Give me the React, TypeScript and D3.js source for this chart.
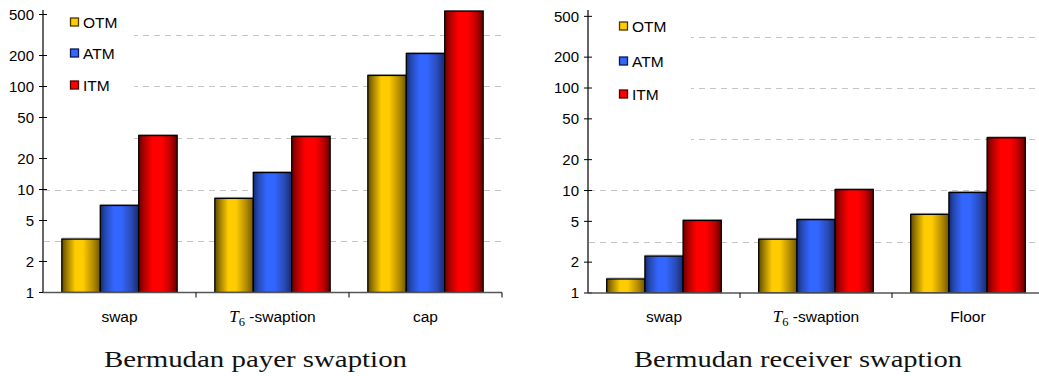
import React from "react";
import * as d3 from "d3";

// Series and categories
const seriesNames = ["OTM", "ATM", "ITM"];
const yTickValues = [1, 2, 5, 10, 20, 50, 100, 200, 500];
const gridValues = [Math.sqrt(10), 10, Math.sqrt(1000), 100, Math.sqrt(100000)];

const payerCategories = ["swap", "T6-swaption", "cap"];
const payerOTM = [3.3, 8.2, 128];
const payerATM = [7.0, 14.6, 209];
const payerITM = [33.4, 32.7, 540];

const receiverCategories = ["swap", "T6-swaption", "Floor"];
const receiverOTM = [1.37, 3.35, 5.85];
const receiverATM = [2.29, 5.2, 9.56];
const receiverITM = [5.1, 10.2, 32.7];

const SANS = "'Liberation Sans', Arimo, Arial, sans-serif";
const SERIF = "'Liberation Serif', 'DejaVu Serif', serif";

const gradStops: Record<string, [number, string][]> = {
  OTM: [
    [0, "#5e4a00"],
    [0.12, "#9a7a00"],
    [0.35, "#ffcc00"],
    [0.55, "#ffcc00"],
    [0.8, "#b89000"],
    [1, "#6e5800"],
  ],
  ATM: [
    [0, "#142a6e"],
    [0.12, "#2448b0"],
    [0.35, "#3366ff"],
    [0.55, "#3366ff"],
    [0.8, "#2a4cb8"],
    [1, "#162a70"],
  ],
  ITM: [
    [0, "#6a0000"],
    [0.12, "#a80000"],
    [0.35, "#ff0000"],
    [0.6, "#ff0000"],
    [0.82, "#c00000"],
    [1, "#600000"],
  ],
};

type PanelProps = {
  id: string;
  categories: string[];
  values: number[][];
  axisX: number;
  bottom: number;
  decade: number;
  catWidth: number;
  rightEdge: number;
  legendX: number;
  legendYs: number[];
  legendRight: number;
  title: string;
  titleX: number;
  titleWidth: number;
};

function CategoryLabel({ x, y, label }: { x: number; y: number; label: string }) {
  if (label.startsWith("T6")) {
    return (
      <text x={x} y={y} textAnchor="middle" fontSize={15.5} fontFamily={SANS} fill="#000">
        <tspan fontFamily={SERIF} fontStyle="italic" fontSize={17}>T</tspan>
        <tspan fontFamily={SERIF} fontSize={12.5} dy={4}>6</tspan>
        <tspan dy={-4}>{" -swaption"}</tspan>
      </text>
    );
  }
  return (
    <text x={x} y={y} textAnchor="middle" fontSize={15.5} fontFamily={SANS} fill="#000">
      {label}
    </text>
  );
}

function Panel(p: PanelProps) {
  const top = 10;
  const y = d3
    .scaleLog()
    .domain([1, 1000])
    .range([p.bottom, p.bottom - 3 * p.decade]);
  const x0 = d3
    .scaleBand<string>()
    .domain(p.categories)
    .range([p.axisX, p.axisX + p.catWidth * p.categories.length])
    .paddingInner(0)
    .paddingOuter(0);
  const x1 = d3
    .scaleBand<string>()
    .domain(seriesNames)
    .range([0, x0.bandwidth()])
    .paddingInner(0)
    .paddingOuter(0.49);

  const boundaries = p.categories.map((c) => (x0(c) as number) + x0.bandwidth());

  return (
    <g>
      <defs>
        {seriesNames.map((s) => (
          <linearGradient key={s} id={`${p.id}-${s}`} x1="0" x2="1" y1="0" y2="0">
            {gradStops[s].map(([o, c], i) => (
              <stop key={i} offset={o} stopColor={c} />
            ))}
          </linearGradient>
        ))}
        <clipPath id={`${p.id}-clip`}>
          <rect x={p.axisX} y={top} width={p.rightEdge - p.axisX} height={p.bottom - top} />
        </clipPath>
      </defs>

      {/* dashed gridlines */}
      {gridValues.map((v, i) => (
        <line
          key={i}
          x1={p.axisX + 1}
          x2={p.rightEdge}
          y1={Math.round(y(v)) + 0.5}
          y2={Math.round(y(v)) + 0.5}
          stroke="#c4c4c4"
          strokeWidth={1}
          strokeDasharray="6 5"
        />
      ))}

      {/* legend box masking grid */}
      <rect x={p.axisX + 1} y={top} width={p.legendRight - p.axisX - 1} height={150 - top} fill="#fff" />

      {/* bars */}
      <g clipPath={`url(#${p.id}-clip)`}>
        {p.categories.map((c, ci) =>
          seriesNames.map((s, si) => {
            const v = p.values[si][ci];
            const bx = (x0(c) as number) + (x1(s) as number);
            const by = y(v);
            const bw = x1.bandwidth();
            return (
              <g key={`${c}-${s}`}>
                <line x1={bx} x2={bx + bw + 1} y1={by - 1} y2={by - 1} stroke="#b0b0b0" strokeWidth={1} />
                <rect
                  x={bx}
                  y={by}
                  width={bw}
                  height={p.bottom - by}
                  fill={`url(#${p.id}-${s})`}
                  stroke="#000"
                  strokeWidth={1.3}
                />
              </g>
            );
          })
        )}
      </g>

      {/* y axis */}
      <line x1={p.axisX} x2={p.axisX} y1={top} y2={p.bottom} stroke="#000" strokeWidth={1.2} />
      {yTickValues.map((t) => (
        <g key={t} transform={`translate(0,${y(t)})`}>
          <line x1={p.axisX - 4} x2={p.axisX + 4} stroke="#000" strokeWidth={1} />
          <text x={p.axisX - 9} dy="0.35em" textAnchor="end" fontSize={15} fontFamily={SANS} fill="#000">
            {t}
          </text>
        </g>
      ))}

      {/* x axis */}
      <line x1={p.axisX} x2={p.rightEdge} y1={p.bottom} y2={p.bottom} stroke="#555" strokeWidth={1.3} />
      {boundaries.map((bx, i) => (
        <line key={i} x1={bx} x2={bx} y1={p.bottom} y2={p.bottom + 5} stroke="#000" strokeWidth={1} />
      ))}
      {p.categories.map((c) => (
        <CategoryLabel key={c} x={(x0(c) as number) + x0.bandwidth() / 2} y={p.bottom + 29} label={c} />
      ))}

      {/* legend */}
      {seriesNames.map((s, i) => (
        <g key={s}>
          <rect
            x={p.legendX + 0.5}
            y={p.legendYs[i] - 4}
            width={8}
            height={8}
            fill={gradStops[s][2][1]}
            stroke={s === "OTM" ? "#4a3a00" : s === "ATM" ? "#0a1a50" : "#500000"}
            strokeWidth={1.3}
          />
          <text x={p.legendX + 13} y={p.legendYs[i]} dy="0.36em" fontSize={15.5} fontFamily={SANS} fill="#000">
            {s}
          </text>
        </g>
      ))}

      {/* panel title */}
      <text
        x={p.titleX}
        y={367}
        fontSize={24}
        fontFamily={SERIF}
        textLength={p.titleWidth}
        lengthAdjust="spacingAndGlyphs"
        fill="#111"
      >
        {p.title}
      </text>
    </g>
  );
}

export default function App() {
  return (
    <svg width={1039} height={376} style={{ position: "absolute", left: 0, top: 0, background: "#fff" }}>
      <rect width={1039} height={376} fill="#fff" />
      <Panel
        id="payer"
        categories={payerCategories}
        values={[payerOTM, payerATM, payerITM]}
        axisX={43}
        bottom={292.5}
        decade={103}
        catWidth={153}
        rightEdge={502}
        legendX={70}
        legendYs={[22, 53, 85]}
        legendRight={134}
        title="Bermudan payer swaption"
        titleX={104}
        titleWidth={303}
      />
      <Panel
        id="receiver"
        categories={receiverCategories}
        values={[receiverOTM, receiverATM, receiverITM]}
        axisX={588}
        bottom={293}
        decade={102.5}
        catWidth={152}
        rightEdge={1039}
        legendX={619}
        legendYs={[26, 61, 94]}
        legendRight={691}
        title="Bermudan receiver swaption"
        titleX={634}
        titleWidth={328}
      />
    </svg>
  );
}
